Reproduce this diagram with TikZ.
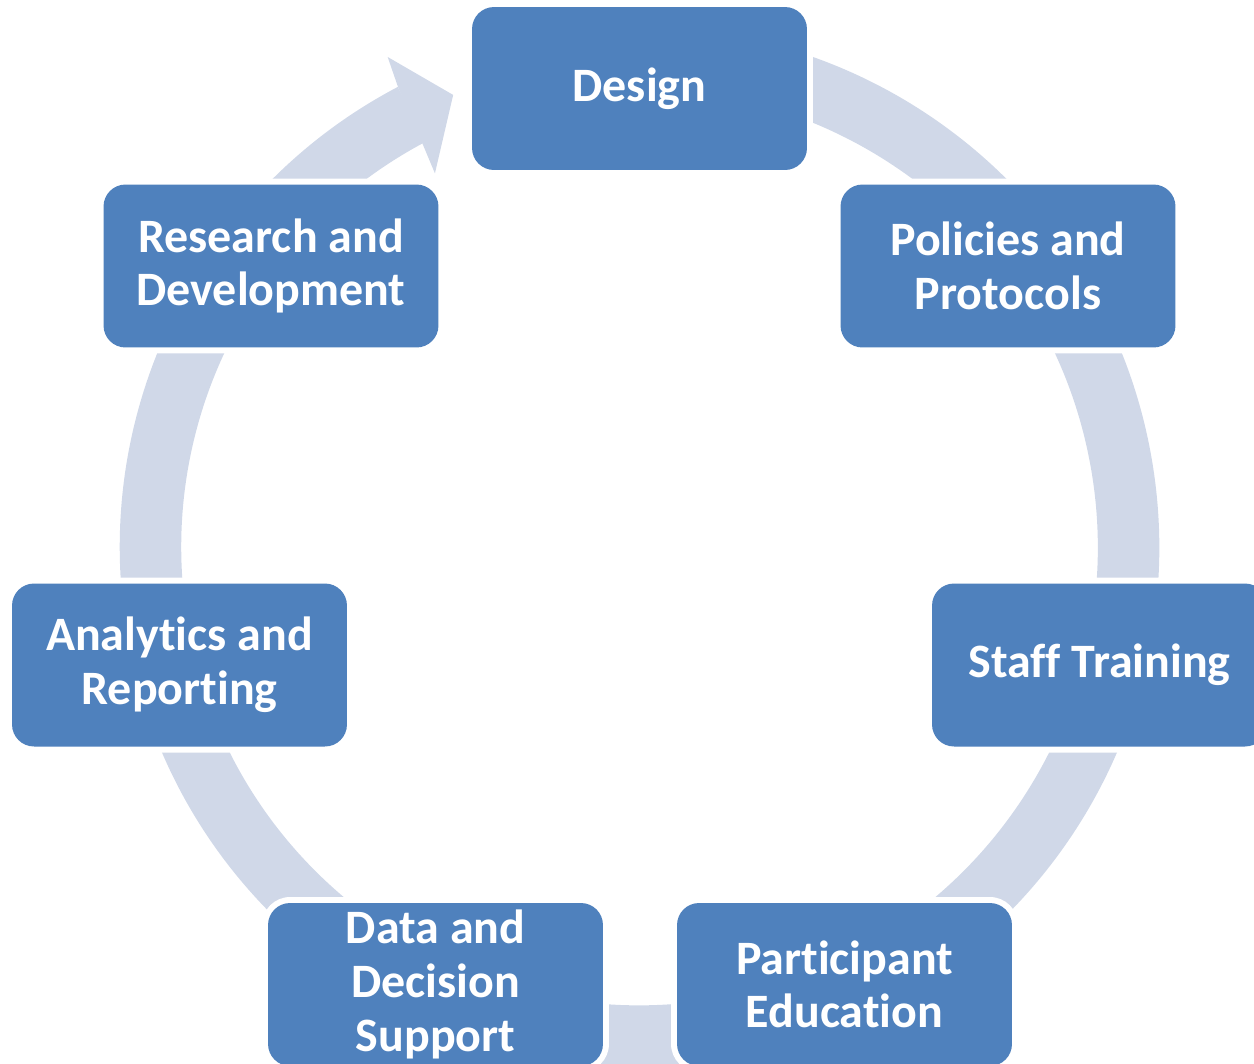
\documentclass[tikz,border=0pt]{standalone}
\usepackage{fontspec}
\setmainfont{Carlito}[Ligatures=NoCommon]
\definecolor{boxblue}{HTML}{4F81BD}
\definecolor{ringblue}{HTML}{D0D8E8}
\begin{document}
\begin{tikzpicture}[x=0.02cm,y=0.02cm,
  stage/.style={fill=boxblue, rounded corners=0.44cm, minimum width=6.7cm,
    minimum height=3.26cm, text=white, align=center, inner sep=0pt,
    font=\fontsize{27.3}{30.5}\selectfont\bfseries},
  clearance/.style={fill=white, rounded corners=0.56cm, minimum width=6.94cm,
    minimum height=3.5cm, inner sep=0pt},
  ring/.style={draw=ringblue, line width=1.23cm}]
\useasboundingbox (0,0) rectangle (1254,-1063);

% centre of the cycle ring
\coordinate (ctr) at (639.5,-547);

% the cycle band and its arrowhead
\draw[ring] ([shift={(100:489)}]ctr) arc[start angle=100, end angle=-242.3, radius=489];
\fill[ringblue] ([shift={(117.7:519.5)}]ctr) -- ([shift={(117.2:551)}]ctr)
  -- ([shift={(112.4:489)}]ctr) -- ([shift={(118.7:426)}]ctr)
  -- ([shift={(118.3:456.6)}]ctr) -- cycle;

% white clearance around every stage
\foreach \p/\n in {{(639.5,-88.5)}/c1,{(1008,-266)}/c2,{(1099.5,-665)}/c3,
  {(844.5,-984.5)}/c4,{(435.5,-984.5)}/c5,{(179.5,-665)}/c6,{(271,-266)}/c7}
  \node[clearance] (\n) at \p {};

% the stages
\node[stage] (design) at (639.5,-88.5) {Design};
\node[stage] (policies) at (1008,-266) {Policies and\\Protocols};
\node[stage] (staff) at (1099.5,-665) {Staff Training};
\node[stage] (participant) at (844.5,-984.5) {Participant\\Education};
\node[stage] (data) at (435.5,-984.5) {Data and\\Decision\\Support};
\node[stage] (analytics) at (179.5,-665) {Analytics and\\Reporting};
\node[stage] (research) at (271,-266) {Research and\\Development};
\end{tikzpicture}
\end{document}
